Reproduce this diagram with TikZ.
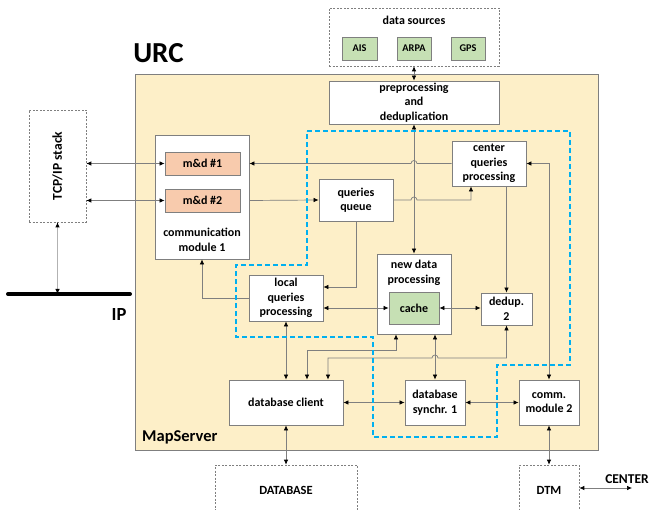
\documentclass[tikz,border=0pt]{standalone}
\usepackage{fontspec}
\setmainfont{Carlito}
\usetikzlibrary{arrows.meta}
\definecolor{msfill}{RGB}{253,239,200}
\definecolor{edge}{RGB}{127,127,127}
\definecolor{mdfill}{RGB}{248,203,173}
\definecolor{srcfill}{RGB}{198,224,180}
\definecolor{zone}{RGB}{0,176,240}
\begin{document}
\begin{tikzpicture}[x = 1pt, y = -1pt,
		every node/.style = {font=\bfseries\fontsize{12}{14.5}\selectfont, inner sep=0pt, align=center},
		box/.style = {draw=edge, fill=white, line width=.8pt},
		dbox/.style = {draw=edge, line width=.6pt, dash pattern=on 2pt off 1.5pt},
		wire/.style = {draw=edge, line width=.7pt},
		>={Latex[length=5pt,width=4.5pt,color=black]}]
	\useasboundingbox (0,0) rectangle (650,510);
	% MapServer
	\node[box, fill=msfill, minimum width=463pt, minimum height=376pt] (map) at (366.5,262) {};
	\node[font=\bfseries\fontsize{16.5}{16.5}\selectfont, anchor=west] (maplbl) at (142,437) {MapServer};
	\node[font=\bfseries\fontsize{29}{29}\selectfont] (urc) at (158.5,53) {URC};
	% data sources
	\node[dbox, minimum width=170pt, minimum height=58pt] (src) at (414,37) {};
	\node (srclbl) at (414,20) {data sources};
	\node[box, fill=srcfill, minimum width=35pt, minimum height=23pt, font=\bfseries\fontsize{10.3}{10.3}\selectfont] (ais) at (359.5,48.5) {AIS};
	\node[box, fill=srcfill, minimum width=34pt, minimum height=23pt, font=\bfseries\fontsize{10.3}{10.3}\selectfont] (arpa) at (414,48.5) {ARPA};
	\node[box, fill=srcfill, minimum width=34pt, minimum height=23pt, font=\bfseries\fontsize{10.3}{10.3}\selectfont] (gps) at (468,48.5) {GPS};
	\node[box, minimum width=170pt, minimum height=43pt] (pre) at (414,102.5) {preprocessing\\and\\deduplication};
	% TCP/IP and IP
	\node[dbox, minimum width=57pt, minimum height=112pt] (tcp) at (57.5,166) {};
	\node[rotate=90, font=\bfseries\fontsize{13.5}{13.5}\selectfont] (tcplbl) at (57.5,166) {TCP/IP stack};
	\coordinate (ipl) at (8,294);
	\coordinate (ipr) at (130,294);
	\node[font=\bfseries\fontsize{18.5}{18.5}\selectfont] (iplbl) at (119,315) {IP};
	% communication module 1
	\node[box, minimum width=94pt, minimum height=124pt] (cm1) at (202,197) {};
	\node (cm1lbl) at (202,240) {communication\\module 1};
	\node[box, fill=mdfill, minimum width=75pt, minimum height=23pt] (md1) at (202.5,163.5) {m\&d \#1};
	\node[box, fill=mdfill, minimum width=75pt, minimum height=23pt] (md2) at (202.5,200.5) {m\&d \#2};
	% processing blocks
	\node[box, minimum width=74pt, minimum height=42pt] (qq) at (356,200) {queries\\queue};
	\node[box, minimum width=74pt, minimum height=45pt] (cqp) at (489,163.5) {center\\queries\\processing};
	\node[box, minimum width=74pt, minimum height=80pt] (ndp) at (414,294) {};
	\node (ndplbl) at (414,273) {new data\\processing};
	\node[box, fill=srcfill, minimum width=50pt, minimum height=32pt] (cache) at (414,308) {cache};
	\node[box, minimum width=74pt, minimum height=46pt] (lqp) at (286,298) {local\\queries\\processing};
	\node[box, minimum width=51pt, minimum height=32pt] (dd2) at (506.5,309) {dedup.\\2};
	\node[box, minimum width=114pt, minimum height=45pt] (dbc) at (286,402.5) {database client};
	\node[box, minimum width=60pt, minimum height=45pt] (dbs) at (435,402.5) {database\\synchr. 1};
	\node[box, minimum width=60pt, minimum height=45pt] (cm2) at (549,402.5) {comm.\\module 2};
	% outside
	\node[dbox, minimum width=142pt, minimum height=50pt, font=\bfseries\fontsize{12.5}{12.5}\selectfont] (db) at (286,490) {DATABASE};
	\node[dbox, minimum width=60pt, minimum height=50pt, font=\bfseries\fontsize{12.5}{12.5}\selectfont] (dtm) at (549,490) {DTM};
	\coordinate (ctr) at (632,488);
	\node[font=\bfseries\fontsize{13.5}{13.5}\selectfont] (ctrlbl) at (627,479) {CENTER};
	% connectors
	\draw[line width=4pt, line cap=round] (ipl) -- (ipr);
	\draw[draw=edge!60, line width=.8pt, <->] (tcp.south) -- (tcp.south |- ipl);
	\draw[wire, <->] (src.south) -- (pre.north);
	\draw[wire, <->] (pre.south) -- (ndp.north);
	\draw[wire, <->] (tcp.east |- md1) -- (md1.west);
	\draw[wire, <->] (tcp.east |- md2) -- (md2.west);
	\draw[wire, ->] (cqp.west) -- (417,163.5) arc[start angle=0, end angle=180, radius=3pt] -- (cm1.east |- md1);
	\draw[wire, ->] (cm1.east |- md2) -- (qq.west);
	\draw[wire, ->] (qq.east) -- (411,200) arc[start angle=180, end angle=0, radius=3pt] -| ([xshift=-18pt]cqp.south);
	\draw[wire, <->] (cqp.east) -| (cm2.north);
	\draw[wire, ->] (dd2.north |- cqp.south) -- (dd2.north);
	\draw[wire, ->] (qq.south) |- ([yshift=11pt]lqp.east);
	\draw[wire, ->] (lqp.west) -| (cm1.south);
	\draw[wire, <->] (cache.west -| lqp.east) -- (cache.west);
	\draw[wire, <->] (cache.east) -- (cache.east -| dd2.west);
	\draw[wire, <->] (lqp.south) -- (dbc.north);
	\draw[wire, <->] ([xshift=-18pt]ndp.south) -- ++(0,16) -| ([xshift=21pt]dbc.north);
	\draw[wire, <->] (dd2.south) |- (438,358) arc[start angle=0, end angle=180, radius=3pt] -| ([xshift=42pt]dbc.north);
	\draw[wire, <->] (dbs.north |- ndp.south) -- (dbs.north);
	\draw[wire, <->] (dbc.east) -- (dbs.west);
	\draw[wire, <->] (dbs.east) -- (cm2.west);
	\draw[wire, <->] (cm2.south) -- (dtm.north);
	\draw[wire, <->] (dbc.south) -- (db.north);
	\draw[wire, <->] (dtm.east |- ctr) -- (ctr);
	% zone
	\draw[zone, line width=2.2pt, dash pattern=on 5pt off 3pt] (307,131) -- (570,131) -- (570,365) -- (497,365) -- (497,437) -- (373,437) -- (373,337) -- (236,337) -- (236,265) -- (307,265) -- cycle;
\end{tikzpicture}
\end{document}
